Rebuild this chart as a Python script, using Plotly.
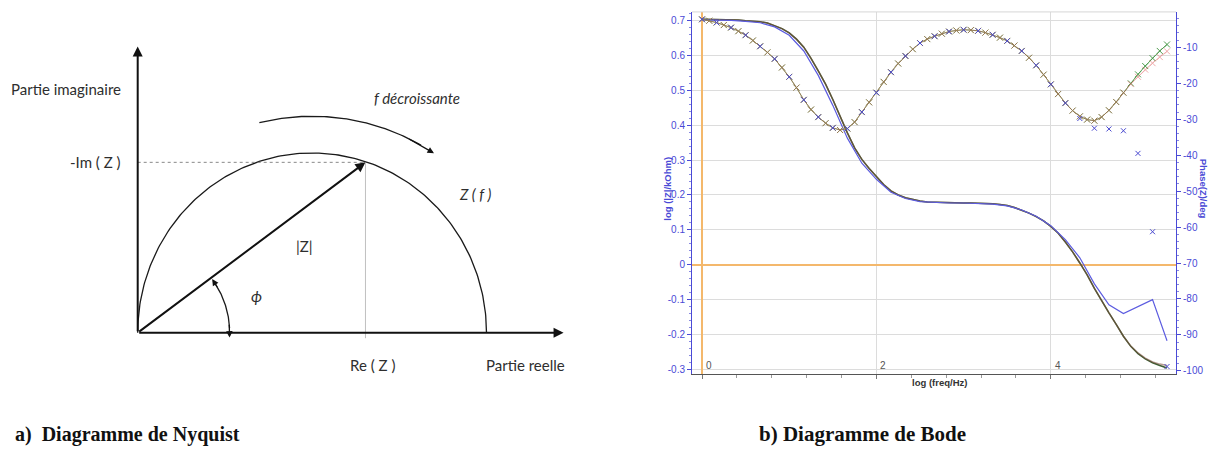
import numpy as np
import plotly.graph_objects as go

W, H = 1213, 455

# ---------------- Bode data ----------------
logf = [0.000, 0.083, 0.167, 0.250, 0.333, 0.417, 0.500, 0.583, 0.667, 0.750, 0.833, 0.917,
        1.000, 1.083, 1.167, 1.250, 1.333, 1.417, 1.500, 1.583, 1.667, 1.750, 1.833, 1.917,
        2.000, 2.083, 2.167, 2.250, 2.333, 2.417, 2.500, 2.583, 2.667, 2.750, 2.833, 2.917,
        3.000, 3.083, 3.167, 3.250, 3.333, 3.417, 3.500, 3.583, 3.667, 3.750, 3.833, 3.917,
        4.000, 4.083, 4.167, 4.250, 4.333, 4.417, 4.500, 4.583, 4.667, 4.750, 4.833, 4.917,
        5.000, 5.083, 5.167, 5.250, 5.333]

phase_green = [-2.2, -2.6, -3.1, -3.8, -4.5, -5.5, -6.6, -8.1, -9.7, -11.4, -13.2, -15.6,
               -18.2, -21.2, -24.6, -27.3, -29.4, -31.1, -32.4, -33.0, -32.6, -30.8, -28.0, -25.3,
               -22.6, -19.6, -16.9, -14.5, -12.4, -10.5, -8.8, -7.7, -6.9, -6.2, -5.6, -5.3,
               -5.1, -5.2, -5.4, -5.9, -6.5, -7.3, -8.2, -9.5, -11.0, -12.9, -15.0, -17.6,
               -20.3, -23.0, -25.5, -27.6, -29.2, -30.1, -30.4, -29.4, -27.5, -25.2, -22.6, -20.0,
               -17.5, -15.2, -13.0, -11.0, -9.2]
phase_red = [-2.2, -2.6, -3.1, -3.8, -4.5, -5.5, -6.6, -8.1, -9.7, -11.4, -13.2, -15.6,
             -18.2, -21.2, -24.6, -27.3, -29.4, -31.1, -32.4, -33.0, -32.6, -30.8, -28.0, -25.3,
             -22.6, -19.6, -16.9, -14.5, -12.4, -10.5, -8.8, -7.7, -6.9, -6.2, -5.6, -5.3,
             -5.1, -5.2, -5.4, -5.9, -6.5, -7.3, -8.2, -9.5, -11.0, -12.9, -15.0, -17.6,
             -20.3, -23.0, -25.5, -27.6, -29.2, -30.1, -30.4, -29.4, -27.5, -25.2, -22.6, -20.2,
             -18.2, -16.2, -14.4, -12.7, -11.1]

mag_green = [0.704, 0.704, 0.704, 0.704, 0.703, 0.702, 0.700, 0.699, 0.697, 0.693, 0.686, 0.677,
             0.665, 0.647, 0.624, 0.592, 0.556, 0.518, 0.474, 0.426, 0.378, 0.335, 0.302, 0.276,
             0.252, 0.230, 0.212, 0.200, 0.192, 0.187, 0.183, 0.180, 0.179, 0.178, 0.178, 0.177,
             0.177, 0.177, 0.177, 0.176, 0.175, 0.173, 0.170, 0.164, 0.157, 0.148, 0.138, 0.126,
             0.110, 0.091, 0.065, 0.037, 0.005, -0.029, -0.068, -0.104, -0.138, -0.171, -0.205, -0.234,
             -0.255, -0.270, -0.281, -0.289, -0.296]
mag_red = [0.704, 0.704, 0.704, 0.704, 0.703, 0.702, 0.700, 0.699, 0.697, 0.693, 0.686, 0.677,
           0.665, 0.647, 0.624, 0.592, 0.556, 0.518, 0.474, 0.426, 0.378, 0.335, 0.302, 0.276,
           0.252, 0.230, 0.212, 0.200, 0.192, 0.187, 0.183, 0.180, 0.179, 0.178, 0.178, 0.177,
           0.177, 0.177, 0.177, 0.176, 0.175, 0.173, 0.170, 0.164, 0.157, 0.148, 0.138, 0.126,
           0.110, 0.091, 0.065, 0.037, 0.005, -0.029, -0.068, -0.104, -0.138, -0.171, -0.205, -0.233,
           -0.253, -0.268, -0.279, -0.285, -0.289]

logf_blue = [0.000, 0.167, 0.333, 0.500, 0.667, 0.833, 1.000, 1.167, 1.333, 1.500, 1.667,
             1.833, 2.000, 2.167, 2.333, 2.500, 2.667, 2.833, 3.000, 3.167, 3.333, 3.500,
             3.667, 3.833, 4.000, 4.167, 4.333, 4.500, 4.667, 4.833, 5.000, 5.167, 5.333]
mag_blue = [0.702, 0.702, 0.701, 0.698, 0.694, 0.682, 0.658, 0.613, 0.543, 0.457, 0.363,
            0.291, 0.245, 0.208, 0.190, 0.181, 0.178, 0.177, 0.177, 0.176, 0.174, 0.169,
            0.157, 0.139, 0.112, 0.072, 0.020, -0.055, -0.115, -0.140, -0.120, -0.100, -0.218]
phase_blue = [-2.2, -3.1, -4.5, -6.6, -9.7, -13.2, -18.2, -24.6, -29.4, -32.4, -32.6,
              -28.0, -22.6, -16.9, -12.4, -8.8, -6.9, -5.6, -5.1, -5.4, -6.5, -8.2,
              -11.0, -15.0, -20.3, -25.5, -29.8, -32.5, -32.7, -33.2, -39.5, -61.3, -98.8]

mag_ticks = [-0.3, -0.2, -0.1, 0.0, 0.1, 0.2, 0.3, 0.4, 0.5, 0.6, 0.7]
mag_tick_labels = ["-0.3", "-0.2", "-0.1", "0", "0.1", "0.2", "0.3", "0.4", "0.5", "0.6", "0.7"]
phase_ticks = [-100, -90, -80, -70, -60, -50, -40, -30, -20, -10]
phase_tick_labels = ["-100", "-90", "-80", "-70", "-60", "-50", "-40", "-30", "-20", "-10"]
freq_ticks = [0, 2, 4]
freq_tick_labels = ["0", "2", "4"]

# ---------------- Nyquist schematic parameters ----------------
nyq_diam = 1.0          # semicircle from Re=0 to Re=1
z_re, z_im = 0.653, 0.474
re_axis_end, im_axis_end = 1.221, 0.796

BLUE = "#4a4ad6"
GREEN = "#4f9c4f"
RED = "#e05a5a"

fig = go.Figure()

# magnitude lines (left axis)
fig.add_trace(go.Scatter(x=logf, y=mag_green, mode="lines", line=dict(color="#3d5f35", width=1.5),
                         xaxis="x", yaxis="y", hoverinfo="skip"))
fig.add_trace(go.Scatter(x=logf, y=mag_red, mode="lines", line=dict(color="#7a4a3a", width=1.5),
                         opacity=0.55, xaxis="x", yaxis="y", hoverinfo="skip"))
fig.add_trace(go.Scatter(x=logf_blue, y=mag_blue, mode="lines",
                         line=dict(color="#5c5ce0", width=1.2),
                         xaxis="x", yaxis="y", hoverinfo="skip"))

# phase (right axis)
fig.add_trace(go.Scatter(x=logf, y=phase_green, mode="lines+markers",
                         line=dict(color=GREEN, width=1),
                         marker=dict(symbol="x-thin", size=6, line=dict(width=1, color=GREEN)),
                         xaxis="x", yaxis="y2", hoverinfo="skip"))
fig.add_trace(go.Scatter(x=logf, y=phase_red, mode="lines+markers",
                         line=dict(color=RED, width=1), opacity=0.5,
                         marker=dict(symbol="x-thin", size=6, line=dict(width=1, color=RED)),
                         xaxis="x", yaxis="y2", hoverinfo="skip"))
fig.add_trace(go.Scatter(x=logf_blue, y=phase_blue, mode="markers",
                         marker=dict(symbol="x-thin", size=5, line=dict(width=1, color="#4a4ad0")),
                         xaxis="x", yaxis="y2", hoverinfo="skip"))

# ---------------- Nyquist drawing ----------------
th = np.linspace(0, np.pi, 200)
r = nyq_diam / 2
fig.add_trace(go.Scatter(x=r + r * np.cos(th), y=r * np.sin(th), mode="lines",
                         line=dict(color="#1a1a1a", width=1.3), xaxis="x3", yaxis="y3",
                         hoverinfo="skip"))

PX_X = 348.8   # px per unit (x3)
PX_Y = 362.0   # px per unit (y3)
ORIG_PX = (137.7, 335.0)

def arc(rpx, a0, a1, cx=0.0, n=60):
    t = np.radians(np.linspace(a0, a1, n))
    return cx + rpx * np.cos(t) / PX_X, rpx * np.sin(t) / PX_Y

phi_deg = np.degrees(np.arctan2(z_im * PX_Y, z_re * PX_X))
ax_, ay_ = arc(92, 3, phi_deg - 3)
fig.add_trace(go.Scatter(x=ax_, y=ay_, mode="lines", line=dict(color="#1a1a1a", width=1.3),
                         xaxis="x3", yaxis="y3", hoverinfo="skip"))
bx_, by_ = arc(218, 104, 60, cx=0.5)
fig.add_trace(go.Scatter(x=bx_, y=by_, mode="lines", line=dict(color="#1a1a1a", width=1.3),
                         xaxis="x3", yaxis="y3", hoverinfo="skip"))

annotations = []

def arrow(x, y, axv, ayv, width=1.6, head=2, size=1.0):
    annotations.append(dict(x=x, y=y, ax=axv, ay=ayv, xref="x3", yref="y3", axref="x3", ayref="y3",
                            text="", showarrow=True, arrowhead=head, arrowsize=size,
                            arrowwidth=width, arrowcolor="#111"))

arrow(0, im_axis_end, 0, 0, width=2)
arrow(re_axis_end, 0, 0, 0, width=2)
arrow(z_re, z_im, 0, 0, width=2)
tx, ty = arc(92, phi_deg - 1, phi_deg - 8, n=2)
arrow(tx[0], ty[0], tx[1], ty[1], width=1.3)
tx, ty = arc(92, -3, 6, n=2)
arrow(tx[0], ty[0], tx[1], ty[1], width=1.3)
tx, ty = arc(218, 56, 64, cx=0.5, n=2)
arrow(tx[0], ty[0], tx[1], ty[1], width=1.3)

shapes = [
    dict(type="line", xref="x3", yref="y3", x0=0, y0=z_im, x1=z_re, y1=z_im,
         line=dict(color="#888", width=1, dash="dot")),
    dict(type="line", xref="x3", yref="y3", x0=z_re, y0=-0.015, x1=z_re, y1=z_im,
         line=dict(color="#b0b0b0", width=0.8)),
    dict(type="line", xref="x domain", yref="y domain", x0=0, x1=1, y0=1, y1=1,
         line=dict(color="#d6d6d6", width=1)),
]

def px_text(text, x, y, size=15, xanchor="left", color="#2e2e2e", family="Lato", angle=0):
    annotations.append(dict(text=text, x=x / W, y=1 - y / H, xref="paper", yref="paper",
                            xanchor=xanchor, yanchor="middle", showarrow=False, textangle=angle,
                            font=dict(size=size, color=color, family=family)))

px_text("Partie imaginaire", 9, 90)
px_text("-Im ( Z )", 123, 163, xanchor="right")
px_text("<i>f décroissante</i>", 372, 99)
px_text("<i>Z ( f )</i>", 457, 195)
px_text("|Z|", 294, 248)
px_text("<i>ϕ</i>", 249, 297, size=16)
px_text("Re ( Z )", 372, 367, xanchor="center")
px_text("Partie reelle", 484, 367)

px_text("<b>a)  Diagramme de Nyquist</b>", 13, 437, size=20, color="#111", family="Liberation Serif")
px_text("<b>b) Diagramme de Bode</b>", 757, 437, size=21, color="#111", family="Liberation Serif")

px_text("<b>log (|Z|/kOhm)</b>", 668, 190, size=9.5, xanchor="center", color=BLUE,
        family="Liberation Sans", angle=-90)
px_text("<b>Phase(Z)/deg</b>", 1203, 190, size=9.5, xanchor="center", color=BLUE,
        family="Liberation Sans", angle=90)
px_text("<b>log (freq/Hz)</b>", 940, 385, size=9.5, xanchor="center", color="#333",
        family="Liberation Sans")

# x tick labels drawn inside the plot, right of their grid lines
for v, lab in zip(freq_ticks, freq_tick_labels):
    annotations.append(dict(text=lab, x=v, y=0, xref="x", yref="y domain", xanchor="left",
                            yanchor="bottom", xshift=2, yshift=1, showarrow=False,
                            font=dict(size=10, color="#555", family="Liberation Sans")))

x0d, x1d = 692 / W, 1176 / W
y0d, y1d = 1 - 376 / H, 1 - 12 / H

fig.update_layout(
    width=W, height=H, margin=dict(l=0, r=0, t=0, b=0),
    paper_bgcolor="white", plot_bgcolor="rgba(0,0,0,0)", showlegend=False,
    font=dict(family="Liberation Sans"),
    xaxis=dict(domain=[x0d, x1d], range=[-0.115, 5.436], anchor="y",
               tickvals=freq_ticks, showticklabels=False,
               showgrid=True, gridcolor="#dcdcdc", gridwidth=1,
               zeroline=True, zerolinecolor="#f4b86c", zerolinewidth=1.6,
               showline=True, linecolor="#555", linewidth=1,
               ticks="outside", ticklen=4, tickcolor="#777",
               minor=dict(dtick=0.4, tick0=0, ticks="outside", ticklen=3, tickcolor="#999",
                          showgrid=False),
               fixedrange=True),
    yaxis=dict(domain=[y0d, y1d], range=[-0.312, 0.725], anchor="x",
               tickvals=mag_ticks, ticktext=mag_tick_labels,
               tickfont=dict(size=10, color=BLUE, family="Liberation Sans"),
               showgrid=True, gridcolor="#dcdcdc", gridwidth=1,
               zeroline=True, zerolinecolor="#f4b86c", zerolinewidth=1.6,
               showline=True, linecolor=BLUE, linewidth=1,
               ticks="outside", ticklen=4, tickcolor=BLUE,
               minor=dict(dtick=0.02, tick0=0, ticks="outside", ticklen=2, tickcolor="#8888e0",
                          showgrid=False)),
    yaxis2=dict(overlaying="y", side="right", anchor="x", range=[-100.75, -0.14],
                tickvals=phase_ticks, ticktext=phase_tick_labels,
                tickfont=dict(size=10, color=BLUE, family="Liberation Sans"),
                showgrid=False, zeroline=False,
                showline=True, linecolor=BLUE, linewidth=1,
                ticks="outside", ticklen=4, tickcolor=BLUE,
                minor=dict(dtick=2, tick0=0, ticks="outside", ticklen=2, tickcolor="#8888e0")),
    xaxis3=dict(domain=[0, 1], range=[-ORIG_PX[0] / PX_X, (W - ORIG_PX[0]) / PX_X],
                visible=False, anchor="y3", fixedrange=True),
    yaxis3=dict(domain=[0, 1], range=[-(H - ORIG_PX[1]) / PX_Y, ORIG_PX[1] / PX_Y],
                visible=False, anchor="x3", fixedrange=True),
    shapes=shapes,
    annotations=annotations,
)

fig.write_html("out.html")
